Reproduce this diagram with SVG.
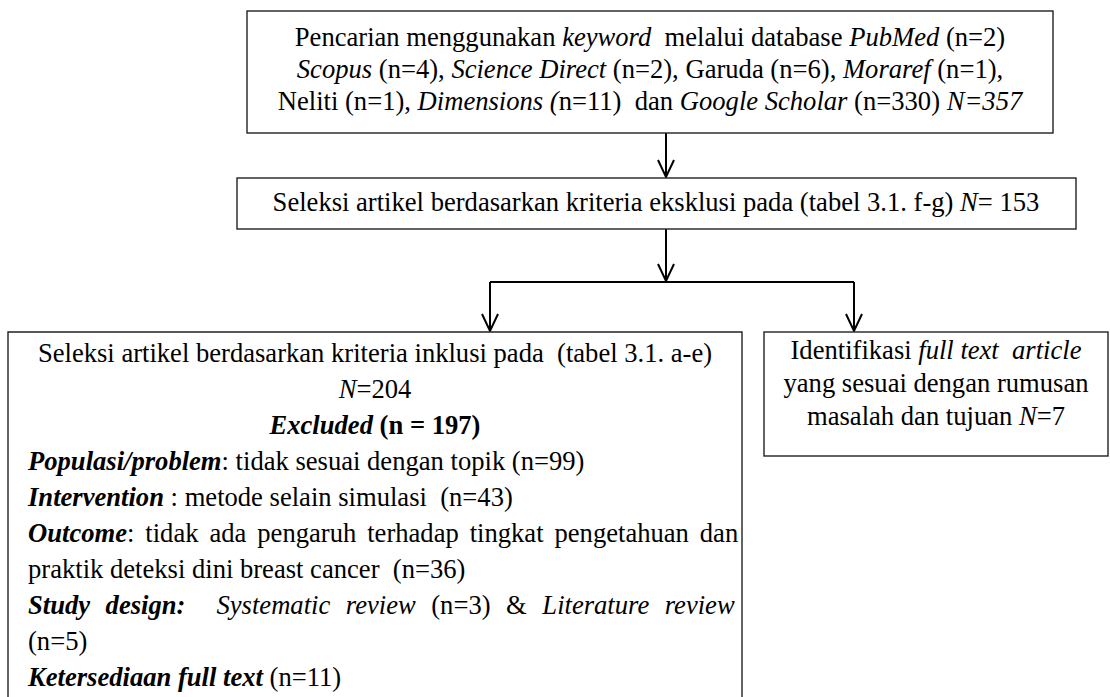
<svg xmlns="http://www.w3.org/2000/svg" width="1110" height="697" viewBox="0 0 1110 697">
<style>
text{font-family:"Liberation Serif","Times New Roman",serif;font-size:26.6px;fill:#000;white-space:pre}
.c{text-anchor:middle}
.i{font-style:italic}
.b{font-weight:bold}
.bi{font-weight:bold;font-style:italic}
.box{fill:#fff;stroke:#222;stroke-width:1.4}
.ln{fill:none;stroke:#000;stroke-width:2}
.ah{fill:none;stroke:#000;stroke-width:2}
</style>
<g id="connectors">
<path class="ln" d="M666,133 V177"/>
<path class="ln" d="M666,229 V281"/>
<path class="ln" d="M490,282 H854"/>
<path class="ln" d="M490,282 V331"/>
<path class="ln" d="M854,282 V331"/>
<path class="ah" d="M658,160 L666,177 L674,160"/>
<path class="ah" d="M658,264 L666,281 L674,264"/>
<path class="ah" d="M482,314 L490,331 L498,314"/>
<path class="ah" d="M846,314 L854,331 L862,314"/>
</g>
<g id="search">
<rect class="box" x="247" y="11" width="806" height="122"/>
<text class="c" x="650" y="46">Pencarian menggunakan <tspan class="i">keyword</tspan>  melalui database <tspan class="i">PubMed</tspan> (n=2)</text>
<text class="c" x="650" y="78"><tspan class="i">Scopus</tspan> (n=4), <tspan class="i">Science Direct</tspan> (n=2), Garuda (n=6), <tspan class="i">Moraref</tspan> (n=1),</text>
<text class="c" x="650" y="110">Neliti (n=1), <tspan class="i">Dimensions (</tspan>n=11)  dan <tspan class="i">Google Scholar</tspan> (n=330) <tspan class="i">N=357</tspan></text>
</g>
<g id="exclusion">
<rect class="box" x="237" y="178" width="839" height="51"/>
<text class="c" x="656" y="211">Seleksi artikel berdasarkan kriteria eksklusi pada (tabel 3.1. f-g) <tspan class="i">N</tspan>= 153</text>
</g>
<g id="inclusion">
<path class="box" d="M8,700 V332 H742 V700"/>
<text class="c" x="375" y="362">Seleksi artikel berdasarkan kriteria inklusi pada  (tabel 3.1. a-e)</text>
<text class="c" x="375" y="398"><tspan class="i">N</tspan>=204</text>
<text class="c b" x="375" y="434"><tspan class="bi">Excluded</tspan> (n = 197)</text>
<text x="28" y="470"><tspan class="bi">Populasi/problem</tspan>: tidak sesuai dengan topik (n=99)</text>
<text x="28" y="506"><tspan class="bi">Intervention</tspan> : metode selain simulasi  (n=43)</text>
<text x="28" y="542" style="word-spacing:4.3px"><tspan class="bi">Outcome</tspan>: tidak ada pengaruh terhadap tingkat pengetahuan dan</text>
<text x="28" y="578">praktik deteksi dini breast cancer  (n=36)</text>
<text x="28" y="614" style="word-spacing:8.9px"><tspan class="bi">Study design:</tspan>  <tspan class="i">Systematic review</tspan> (n=3) &amp; <tspan class="i">Literature review</tspan></text>
<text x="28" y="650">(n=5)</text>
<text x="28" y="686"><tspan class="bi">Ketersediaan full text</tspan> (n=11)</text>
</g>
<g id="fulltext">
<rect class="box" x="764" y="332" width="344" height="124"/>
<text class="c" x="936" y="359">Identifikasi <tspan class="i">full text  article</tspan></text>
<text class="c" x="936" y="392">yang sesuai dengan rumusan</text>
<text class="c" x="936" y="425">masalah dan tujuan <tspan class="i">N</tspan>=7</text>
</g>
</svg>
